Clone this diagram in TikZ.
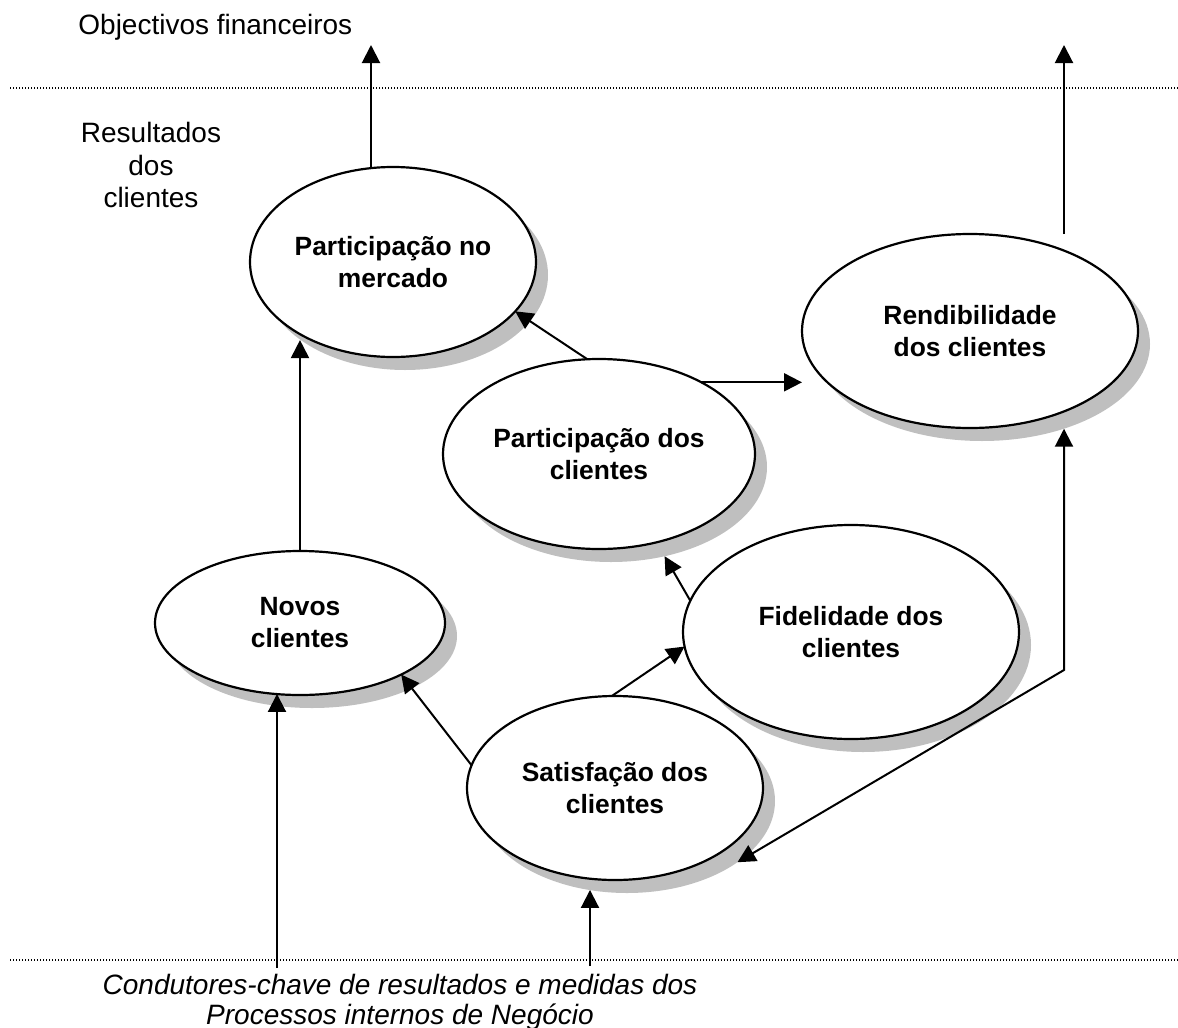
\documentclass[tikz,border=0pt]{standalone}
\usepackage{fontspec}
\setmainfont{Liberation Sans}
\usetikzlibrary{arrows.meta,shapes.geometric}
\begin{document}
\begin{tikzpicture}[x=0.5pt,y=-0.5pt,
  ell/.style={ellipse, draw, line width=1.1pt, fill=white, inner sep=0pt, outer sep=0pt,
    align=center, font=\bfseries\fontsize{13.2pt}{16pt}\selectfont},
  shade/.style={ellipse, fill=black!25, draw=none, inner sep=0pt, outer sep=0pt},
  sz/.style 2 args={minimum width=#1, minimum height=#2},
  arr/.style={line width=1pt, -{Triangle[length=9pt,width=9pt]}},
  arrboth/.style={line width=1pt, {Triangle[length=9pt,width=9pt]}-{Triangle[length=9pt,width=9pt]}},
  band/.style={line width=0.7pt, dash pattern=on 0.7pt off 0.8pt},
  lbl/.style={inner sep=0pt, align=center, font=\fontsize{14pt}{16.25pt}\selectfont}]
\useasboundingbox (0,0) rectangle (1178,1028);

% level separators
\draw[band] (10,88) -- (1178,88);
\draw[band] (10,960) -- (1178,960);

% level captions
\node[lbl, anchor=west] (obj) at (78,27) {Objectivos financeiros};
\node[lbl] (res) at (151,165) {Resultados\\dos\\clientes};
\node[lbl, font=\itshape\fontsize{14pt}{15pt}\selectfont] (cond) at (400,1002)
  {Condutores-chave de resultados e medidas dos\\Processos internos de Negócio};

% drop shadows
\node[shade, sz={143pt}{95pt}] (msh) at (405,275) {};
\node[shade, sz={168pt}{97pt}] (rsh) at (982,344) {};
\node[shade, sz={156pt}{95pt}] (pdcsh) at (611,467) {};
\node[shade, sz={145pt}{72pt}] (nsh) at (312,636) {};
\node[shade, sz={168pt}{107pt}] (fsh) at (863,645) {};
\node[shade, sz={148pt}{92pt}] (satsh) at (627,801) {};

% outcome ellipses
\node[ell, sz={143pt}{95pt}] (mercado) at (393,262) {Participação no\\mercado};
\node[ell, sz={168pt}{97pt}] (rend) at (970,331) {Rendibilidade\\dos clientes};
\node[ell, sz={156pt}{95pt}] (pdc) at (599,454) {Participação dos\\clientes};
\node[ell, sz={145pt}{72pt}] (novos) at (300,623) {Novos\\clientes};
\node[ell, sz={168pt}{107pt}] (fidel) at (851,632) {Fidelidade dos\\clientes};
\node[ell, sz={148pt}{92pt}] (satisf) at (615,788) {Satisfação dos\\clientes};

% free ends
\coordinate (fin1) at (371,45);
\coordinate (fin2) at (1064,45);
\coordinate (corner) at (1064,670);
\coordinate (drv1) at (277,968);
\coordinate (drv2) at (590,966);

% relations
\draw[arr] (fin1 |- mercado.north) -- (fin1);
\draw[arr] (fin2 |- rend.north) -- (fin2);
\draw[arr] (novos.north) -- (novos.north |- msh.212);
\draw[arr] (pdc.97) -- (mercado.-22);
\draw[arr] (pdc.35) -- (pdc.35 -| rend.west);
\draw[arr] (fidel.169) -- (pdcsh.-59);
\draw[arr] (satisf.92) -- (fidel.185);
\draw[arr] (satisf.171) -- (novos.-27);
\draw[arrboth] (satsh.-29) -- (corner) -- (corner |- rsh.-46);
\draw[arr] (drv1) -- (drv1 |- novos.251);
\draw[arr] (drv2) -- (drv2 |- satsh.247);
\end{tikzpicture}
\end{document}
